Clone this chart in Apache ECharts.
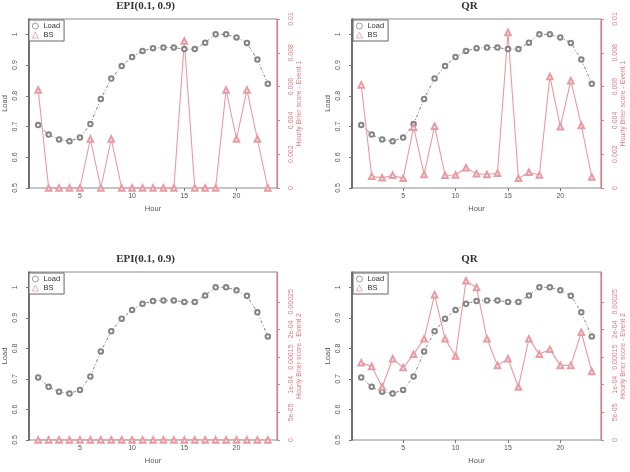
<!DOCTYPE html>
<html>
<head>
<meta charset="utf-8">
<script src="https://cdn.jsdelivr.net/npm/echarts@6/dist/echarts.min.js"></script>
<style>
  html, body { margin: 0; padding: 0; background: #fff; }
  #chart { width: 630px; height: 472px; }
</style>
</head>
<body>
<div id="chart"></div>
<script>
const hours = [1, 2, 3, 4, 5, 6, 7, 8, 9, 10, 11, 12, 13, 14, 15, 16, 17, 18, 19, 20, 21, 22, 23]
const load = [0.705, 0.674, 0.658, 0.652, 0.664, 0.708, 0.790, 0.856, 0.897, 0.926, 0.946, 0.955, 0.957, 0.957, 0.952, 0.952, 0.973, 1.0, 1.0, 0.99, 0.972, 0.918, 0.839]
const bsEpiEvent1 = [0.0058, 0, 0, 0, 0, 0.0029, 0, 0.0029, 0, 0, 0, 0, 0, 0, 0.0087, 0, 0, 0, 0.0058, 0.0029, 0.0058, 0.0029, 0]
const bsQrEvent1 = [0.0061, 0.0007, 0.0006, 0.00075, 0.00057, 0.0036, 0.0008, 0.00365, 0.00075, 0.00077, 0.0012, 0.00085, 0.0008, 0.00087, 0.0092, 0.00057, 0.00093, 0.00077, 0.0066, 0.00363, 0.00635, 0.0037, 0.00065]
const bsEpiEvent2 = [0, 0, 0, 0, 0, 0, 0, 0, 0, 0, 0, 0, 0, 0, 0, 0, 0, 0, 0, 0, 0, 0, 0]
const bsQrEvent2 = [0.000140, 0.000133, 0.000096, 0.000147, 0.000131, 0.000155, 0.000183, 0.000263, 0.000183, 0.000152, 0.000288, 0.000276, 0.000183, 0.000135, 0.000147, 0.000096, 0.000183, 0.000155, 0.000164, 0.000135, 0.000135, 0.000195, 0.000124]

const hourTicks = [5, 10, 15, 20]
const loadTicks = [0.5, 0.6, 0.7, 0.8, 0.9, 1]
const event1Ticks = [0, 0.002, 0.004, 0.006, 0.008, 0.01]
const event1Labels = ['0', '0.002', '0.004', '0.006', '0.008', '0.01']
const event2Ticks = [0, 0.00005, 0.0001, 0.00015, 0.0002, 0.00025]
const event2Labels = ['0', '5e-05', '1e-04', '0.00015', '2e-04', '0.00025']

const RED = '#e07a84'
const PINK = '#e99aa2'
const GREY = '#858585'
const FONT = 'Liberation Sans, Arial, sans-serif'

const panels = [
  { title: 'EPI(0.1, 0.9)', left: 28, top: 19, height: 169, bs: bsEpiEvent1, rmax: 0.01, ticks: event1Ticks, labels: event1Labels, rname: 'Hourly Brier score - Event 1' },
  { title: 'QR', left: 352, top: 19, height: 169, bs: bsQrEvent1, rmax: 0.01, ticks: event1Ticks, labels: event1Labels, rname: 'Hourly Brier score - Event 1' },
  { title: 'EPI(0.1, 0.9)', left: 28, top: 272, height: 168, bs: bsEpiEvent2, rmax: 0.000304, ticks: event2Ticks, labels: event2Labels, rname: 'Hourly Brier score - Event 2' },
  { title: 'QR', left: 352, top: 272, height: 168, bs: bsQrEvent2, rmax: 0.000304, ticks: event2Ticks, labels: event2Labels, rname: 'Hourly Brier score - Event 2' }
]
const W = 249

const chart = echarts.init(document.getElementById('chart'))
const option = { animation: false, grid: [], xAxis: [], yAxis: [], series: [], legend: [], graphic: [] }

panels.forEach((p, i) => {
  option.grid.push({ left: p.left, top: p.top, width: W, height: p.height, show: true, borderColor: '#8a8a8a', borderWidth: 1, backgroundColor: 'transparent' })
  option.graphic.push({
    type: 'text', x: p.left + W / 2 - 7, y: p.top - 18,
    style: { text: p.title, textAlign: 'center', fill: '#333', font: 'bold 11px "Liberation Serif", "DejaVu Serif", serif' }
  })
  option.xAxis.push({
    gridIndex: i, type: 'value', min: 0.12, max: 23.88,
    axisLine: { show: false },
    axisTick: { customValues: hourTicks, length: 3, lineStyle: { color: '#777' } },
    axisLabel: { customValues: hourTicks, fontSize: 7, color: '#555', margin: 5, fontFamily: FONT },
    splitLine: { show: false },
    name: 'Hour', nameLocation: 'middle', nameGap: 17,
    nameTextStyle: { fontSize: 7.5, color: '#555', fontFamily: FONT }
  })
  option.yAxis.push({
    gridIndex: i, type: 'value', position: 'left', min: 0.5, max: 1.05,
    axisLine: { show: true, lineStyle: { color: '#555', width: 1.5 } },
    axisTick: { customValues: loadTicks, length: 3, lineStyle: { color: '#777' } },
    axisLabel: { customValues: loadTicks, rotate: 90, fontSize: 7, color: '#555', margin: 10, fontFamily: FONT, formatter: v => String(+v.toFixed(2)) },
    splitLine: { show: false },
    name: 'Load', nameLocation: 'middle', nameRotate: 90, nameGap: 20,
    nameTextStyle: { fontSize: 7.5, color: '#555', fontFamily: FONT }
  })
  option.yAxis.push({
    gridIndex: i, type: 'value', position: 'right', min: 0, max: p.rmax,
    axisLine: { show: true, lineStyle: { color: RED, width: 1.2 } },
    axisTick: { customValues: p.ticks, length: 3, lineStyle: { color: RED } },
    axisLabel: { customValues: p.ticks, rotate: 90, fontSize: 7, color: RED, margin: 11, fontFamily: FONT,
      formatter: v => p.labels[p.ticks.findIndex(t => Math.abs(t - v) < p.rmax * 1e-3)] || '' },
    splitLine: { show: false },
    name: p.rname, nameLocation: 'middle', nameRotate: 90, nameGap: 19,
    nameTextStyle: { fontSize: 7, color: RED, fontFamily: FONT }
  })
  option.series.push({
    name: 'Load', type: 'line', xAxisIndex: i, yAxisIndex: 2 * i,
    data: hours.map((h, k) => [h, load[k]]),
    symbol: 'emptyCircle', symbolSize: 4.5,
    lineStyle: { color: GREY, width: 1, type: [3, 2, 1, 2] },
    itemStyle: { color: GREY, borderWidth: 0.7 }
  })
  option.series.push({
    name: 'BS', type: 'line', xAxisIndex: i, yAxisIndex: 2 * i + 1,
    data: hours.map((h, k) => [h, p.bs[k]]),
    symbol: 'emptyTriangle', symbolSize: 5.5,
    lineStyle: { color: PINK, width: 1.1 },
    itemStyle: { color: PINK, borderWidth: 0.7 }
  })
  option.legend.push({
    left: p.left + 1, top: p.top + 1, orient: 'vertical',
    backgroundColor: '#fff', borderColor: '#666', borderWidth: 1, borderRadius: 0,
    padding: [2, 4, 2, 3], itemGap: 1, itemWidth: 6, itemHeight: 6,
    textStyle: { fontSize: 7.5, color: '#333', fontFamily: FONT },
    data: [
      { name: 'Load', icon: 'circle', itemStyle: { color: '#fff', borderColor: GREY, borderWidth: 0.8 } },
      { name: 'BS', icon: 'triangle', itemStyle: { color: '#fff', borderColor: PINK, borderWidth: 0.8 } }
    ]
  })
})

chart.setOption(option)
</script>
</body>
</html>
